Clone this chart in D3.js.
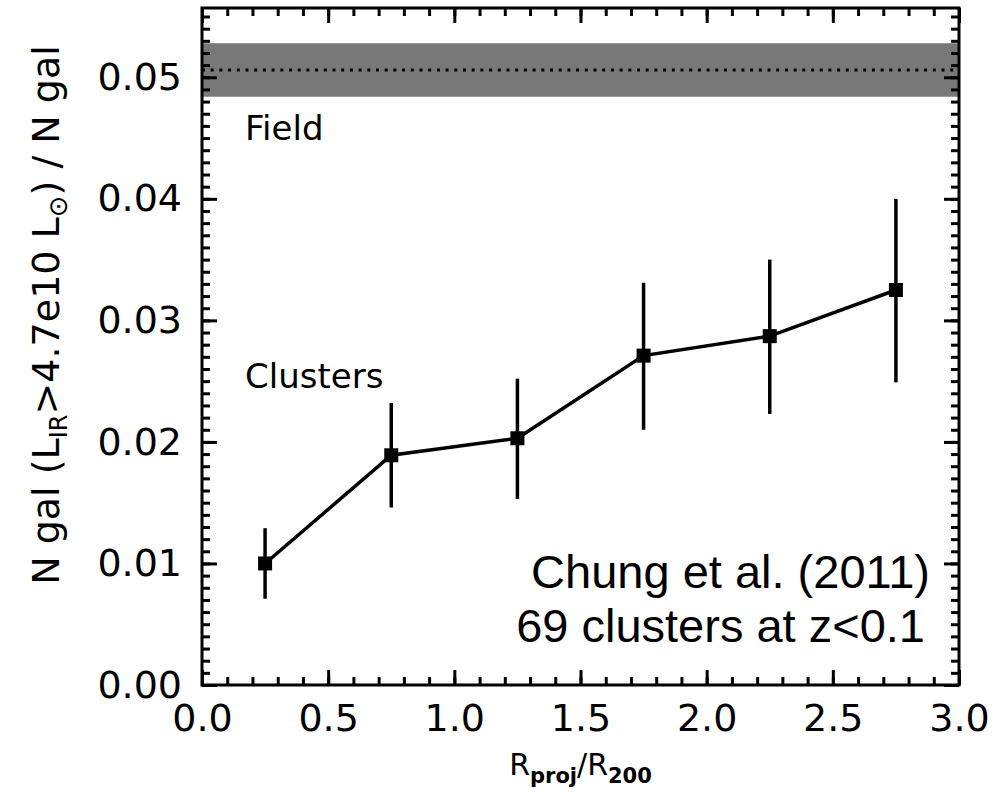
<!DOCTYPE html>
<html>
<head>
<meta charset="utf-8">
<title>Fraction of IR galaxies vs radius</title>
<script src="https://d3js.org/d3.v7.min.js"></script>
<style>
  body { margin: 0; background: #fff; }
  text { font-family: "DejaVu Sans", sans-serif; fill: #000; }
  .tick line { stroke: #000; stroke-width: 3; }
  .tick text { font-size: 38px; }
</style>
</head>
<body>
<div id="chart"></div>
<script>
// data
const radius = [0.25, 0.75, 1.25, 1.75, 2.25, 2.75];
const frac = [0.0100, 0.0189, 0.0203, 0.0271, 0.0287, 0.0325];
const errLow = [0.0071, 0.0146, 0.0153, 0.0210, 0.0223, 0.0249];
const errHigh = [0.0129, 0.0232, 0.0252, 0.0331, 0.0350, 0.0400];
const fieldValue = 0.0506;
const fieldBand = [0.0484, 0.0528];
const xTicks = [0, 0.5, 1.0, 1.5, 2.0, 2.5, 3.0];
const yTicks = [0, 0.01, 0.02, 0.03, 0.04, 0.05];

const W = 1006, H = 794;
const margin = {top: 8, right: 47, bottom: 109, left: 202};
const w = W - margin.left - margin.right;
const h = H - margin.top - margin.bottom;

const svg = d3.select("#chart").append("svg")
  .attr("width", W).attr("height", H);
const g = svg.append("g")
  .attr("transform", `translate(${margin.left},${margin.top})`);

const x = d3.scaleLinear().domain([0, 3.0]).range([0, w]);
const y = d3.scaleLinear().domain([0, 0.0557]).range([h, 0]);

// field band + dotted line
g.append("rect")
  .attr("x", 0).attr("width", w)
  .attr("y", y(fieldBand[1]))
  .attr("height", y(fieldBand[0]) - y(fieldBand[1]))
  .attr("fill", "#787878");
g.append("line")
  .attr("x1", 0).attr("x2", w)
  .attr("y1", y(fieldValue)).attr("y2", y(fieldValue))
  .attr("stroke", "#000").attr("stroke-width", 3)
  .attr("stroke-dasharray", "3,5.7");

// axes: majors and minors, ticks pointing inwards
const xMinor = d3.range(0, 3.0001, 0.1);
const yMinor = d3.range(0, 0.0557, 0.001);

function addAxis(axis, tr) {
  const a = g.append("g").attr("transform", tr).call(axis);
  a.select(".domain").remove();
  return a;
}
addAxis(d3.axisBottom(x).tickValues(xMinor).tickSize(-8).tickFormat(""), `translate(0,${h})`);
addAxis(d3.axisTop(x).tickValues(xMinor).tickSize(-8).tickFormat(""), "translate(0,0)");
addAxis(d3.axisLeft(y).tickValues(yMinor).tickSize(-8).tickFormat(""), "translate(0,0)");
addAxis(d3.axisRight(y).tickValues(yMinor).tickSize(-8).tickFormat(""), `translate(${w},0)`);

const xa = addAxis(d3.axisBottom(x).tickValues(xTicks).tickSize(-15).tickPadding(19)
  .tickFormat(d3.format(".1f")), `translate(0,${h})`);
addAxis(d3.axisTop(x).tickValues(xTicks).tickSize(-15).tickFormat(""), "translate(0,0)");
const ya = addAxis(d3.axisLeft(y).tickValues(yTicks).tickSize(-15).tickPadding(20)
  .tickFormat(d3.format(".2f")), "translate(0,0)");
addAxis(d3.axisRight(y).tickValues(yTicks).tickSize(-15).tickFormat(""), `translate(${w},0)`);
xa.selectAll(".tick text").attr("dy", "0.71em");

// frame
g.append("rect")
  .attr("x", 0).attr("y", 0).attr("width", w).attr("height", h)
  .attr("fill", "none").attr("stroke", "#000").attr("stroke-width", 3);

// error bars
g.selectAll("line.err").data(radius).enter().append("line")
  .attr("class", "err")
  .attr("x1", d => x(d)).attr("x2", d => x(d))
  .attr("y1", (d, i) => y(errLow[i])).attr("y2", (d, i) => y(errHigh[i]))
  .attr("stroke", "#000").attr("stroke-width", 3.5);

// connecting line
const line = d3.line().x(d => x(d[0])).y(d => y(d[1]));
g.append("path")
  .datum(radius.map((r, i) => [r, frac[i]]))
  .attr("d", line)
  .attr("fill", "none").attr("stroke", "#000").attr("stroke-width", 3.5);

// square markers
const sq = 14;
g.selectAll("rect.pt").data(radius).enter().append("rect")
  .attr("class", "pt")
  .attr("x", d => x(d) - sq / 2)
  .attr("y", (d, i) => y(frac[i]) - sq / 2)
  .attr("width", sq).attr("height", sq)
  .attr("fill", "#000");

// labels inside plot
g.append("text").attr("x", 43).attr("y", 132)
  .style("font-size", "34px").text("Field");
g.append("text").attr("x", 43).attr("y", 380)
  .style("font-size", "34px").text("Clusters");

const note = g.append("text")
  .attr("text-anchor", "end")
  .style("font-family", "'Liberation Sans', Arial, sans-serif")
  .style("font-size", "47px");
note.append("tspan").attr("x", 728).attr("y", 580).text("Chung et al. (2011)");
note.append("tspan").attr("x", 723).attr("y", 634).text("69 clusters at z<0.1");

// x axis title
const xt = svg.append("text")
  .attr("x", margin.left + w / 2).attr("y", 775)
  .attr("text-anchor", "middle")
  .style("font-size", "30px");
xt.append("tspan").text("R");
xt.append("tspan").attr("dy", 8).style("font-size", "21px").style("font-weight", "bold").text("proj");
xt.append("tspan").attr("dy", -8).text("/R");
xt.append("tspan").attr("dy", 8).style("font-size", "21px").style("font-weight", "bold").text("200");

// y axis title
const yt = svg.append("text")
  .attr("transform", "translate(59,315) rotate(-90)")
  .attr("text-anchor", "middle")
  .style("font-size", "38px");
yt.append("tspan").text("N gal (L");
yt.append("tspan").attr("dy", 8).style("font-size", "24px").text("IR");
yt.append("tspan").attr("dy", -8).text(">4.7e10 L");
yt.append("tspan").attr("dy", 8).style("font-size", "26px").text("\u2299");
yt.append("tspan").attr("dy", -8).text(") / N gal");
</script>
</body>
</html>
